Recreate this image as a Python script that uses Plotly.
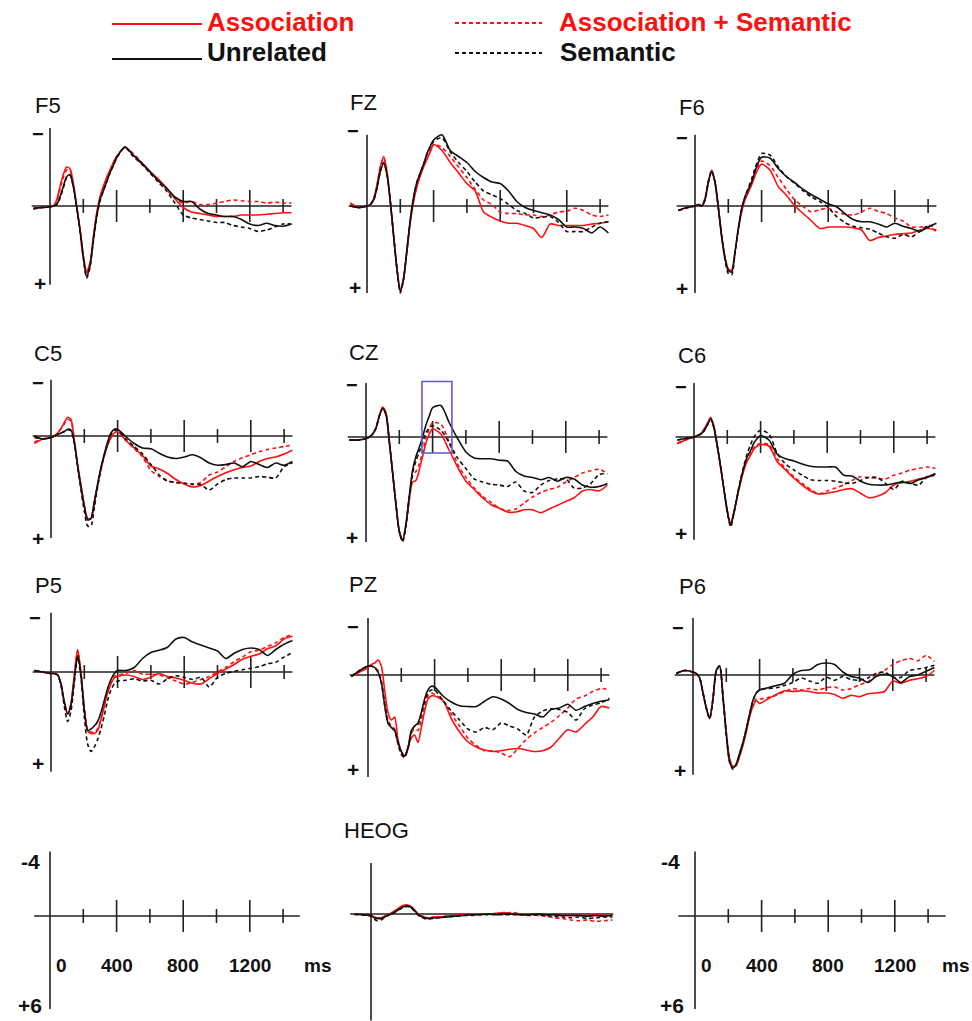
import plotly.graph_objects as go

W, H = 972, 1021
PX_PER_MS = 0.1665
PX_PER_UV = 15.0
FONT = "Liberation Sans, Arial, Helvetica, sans-serif"
RED = "#ff1010"
BLACK = "#111111"
AXIS = "#222222"

# ---------------- data ----------------
TIME_MS = [-100, -50, 0, 20, 40, 60, 80, 100, 120, 140, 160, 180, 200, 220, 240,
           260, 280, 300, 320, 340, 360, 380, 400, 450, 500, 550, 600, 650, 700,
           750, 800, 850, 900, 950, 1000, 1050, 1100, 1150, 1200, 1250, 1300,
           1350, 1400, 1450]

TICK_MS = [200, 400, 600, 800, 1000, 1200, 1400]
TICK_MAJOR = [False, True, False, True, False, True, False]
SCALE_TICK_MS = [0, 400, 800, 1200]
SCALE_TICK_TEXT = ["0", "400", "800", "1200"]
SCALE_UV_TEXT = ["-4", "+6"]
HIGHLIGHT_MS = [336, 516]
HIGHLIGHT_UV = [-3.7, 1.07]

CONDITIONS = ["Association + Semantic", "Association", "Semantic", "Unrelated"]

F5_UNREL = [0.15, 0.1, 0.05, 0.0, -0.1, -0.6, -1.3, -1.95, -2.1, -1.3, 0.05, 1.6, 3.4, 4.7, 4.0, 2.3, 0.7, -0.4, -1.0, -1.6, -2.2, -2.7, -3.2,
            -3.95, -3.4, -2.9, -2.3, -1.7, -1.2, -0.6, -0.3, -0.3, 0.2, 0.5, 0.6, 0.7, 0.7, 0.9, 1.2, 1.3, 1.15, 1.3, 1.35, 1.2]
F5_SEM = [0.2, 0.1, 0.05, 0.0, -0.1, -0.5, -1.2, -1.9, -2.05, -1.3, 0.1, 1.7, 3.5, 4.8, 4.1, 2.4, 0.8, -0.3, -1.0, -1.6, -2.2, -2.7, -3.2,
          -3.9, -3.3, -2.8, -2.2, -1.6, -1.0, -0.2, 0.6, 0.8, 0.9, 1.0, 1.1, 1.1, 1.3, 1.4, 1.5, 1.7, 1.6, 1.4, 1.2, 1.2]
F5_ASSOC = [0.2, 0.1, 0.05, 0.0, -0.4, -1.3, -2.1, -2.6, -2.5, -1.5, 0.0, 1.5, 3.3, 4.4, 3.8, 2.1, 0.5, -0.6, -1.3, -1.9, -2.4, -2.9, -3.3,
            -3.9, -3.4, -2.8, -2.3, -1.8, -1.2, -0.5, 0.1, 0.4, 0.5, 0.6, 0.7, 0.7, 0.7, 0.6, 0.6, 0.6, 0.55, 0.5, 0.45, 0.45]
F5_ASSEM = [0.15, 0.1, 0.05, 0.0, -0.3, -1.1, -1.9, -2.4, -2.4, -1.4, 0.0, 1.5, 3.3, 4.5, 3.9, 2.2, 0.6, -0.5, -1.2, -1.8, -2.3, -2.8, -3.3,
            -3.9, -3.5, -2.9, -2.3, -1.7, -1.1, -0.5, -0.2, -0.3, -0.1, -0.1, -0.2, -0.3, -0.4, -0.35, -0.3, -0.3, -0.2, -0.25, -0.2, -0.2]

FZ_UNREL = [0.0, 0.1, 0.0, -0.1, -0.4, -1.2, -2.3, -2.85, -2.1, -0.3, 2.0, 4.2, 5.7, 4.8, 2.9, 0.9, -0.6, -1.6, -2.2, -2.8, -3.5, -4.0, -4.4,
            -4.75, -3.7, -3.3, -2.9, -2.3, -1.9, -1.6, -1.5, -1.0, -0.3, 0.1, 0.3, 0.45, 0.6, 0.9, 1.4, 1.4, 1.5, 1.8, 1.4, 1.8]
FZ_SEM = [0.0, 0.1, 0.0, -0.1, -0.4, -1.2, -2.3, -2.9, -2.1, -0.3, 2.0, 4.2, 5.8, 4.9, 2.9, 0.9, -0.6, -1.6, -2.2, -2.8, -3.4, -3.9, -4.3,
          -4.55, -3.6, -2.9, -2.3, -1.6, -1.0, -0.75, -0.5, -0.1, 0.3, 0.5, 0.8, 0.75, 0.7, 1.1, 1.7, 1.7, 1.7, 1.4, 1.15, 1.05]
FZ_ASSOC = [-0.2, 0.1, 0.0, -0.1, -0.5, -1.4, -2.6, -3.3, -2.3, -0.3, 2.0, 4.2, 5.6, 4.8, 3.0, 1.1, -0.3, -1.3, -2.0, -2.6, -3.1, -3.6, -4.1,
            -3.7, -2.9, -2.2, -1.5, -1.0, 0.4, 0.75, 1.0, 1.15, 1.15, 1.3, 1.5, 2.1, 1.2, 1.3, 1.3, 1.3, 1.3, 1.2, 1.15, 1.05]
FZ_ASSEM = [-0.1, 0.1, 0.0, -0.1, -0.5, -1.4, -2.6, -3.2, -2.2, -0.3, 2.0, 4.2, 5.6, 4.8, 3.0, 1.0, -0.4, -1.4, -2.1, -2.7, -3.2, -3.7, -4.1,
            -3.9, -3.3, -2.6, -1.9, -1.1, -0.4, -0.1, 0.4, 0.5, 0.5, 0.6, 0.6, 0.7, 0.6, 0.4, 0.35, 0.15, 0.3, 0.6, 0.7, 0.6]

F6_UNREL = [0.3, 0.1, 0.0, -0.1, 0.0, -0.4, -1.6, -2.3, -1.6, 0.1, 2.0, 3.5, 4.3, 4.4, 3.1, 1.5, 0.2, -0.6, -1.1, -1.6, -2.3, -2.9, -3.25,
            -3.2, -2.5, -1.95, -1.55, -1.1, -0.75, -0.45, -0.15, 0.05, 0.5, 0.9, 1.05, 1.05, 1.2, 1.4, 1.15, 1.35, 1.5, 1.7, 1.4, 1.15]
F6_SEM = [0.3, 0.1, 0.0, -0.1, 0.0, -0.4, -1.6, -2.3, -1.6, 0.1, 2.0, 3.6, 4.5, 4.6, 3.2, 1.5, 0.2, -0.6, -1.2, -1.8, -2.5, -3.1, -3.5,
          -3.4, -2.6, -1.95, -1.5, -1.0, -0.6, -0.3, 0.1, 0.7, 1.1, 1.35, 1.45, 1.55, 1.8, 2.05, 2.15, 1.9, 2.05, 1.7, 1.3, 1.4]
F6_ASSOC = [0.3, 0.1, 0.0, -0.1, 0.0, -0.5, -1.6, -2.4, -1.6, 0.1, 2.0, 3.4, 4.2, 4.3, 3.1, 1.6, 0.4, -0.4, -0.9, -1.4, -2.0, -2.5, -2.8,
            -2.4, -1.3, -0.7, 0.0, 0.5, 1.0, 1.5, 1.4, 1.4, 1.4, 1.45, 1.6, 2.3, 2.1, 2.0, 1.9, 1.85, 1.8, 1.6, 1.5, 1.6]
F6_ASSEM = [0.3, 0.15, 0.0, -0.1, 0.0, -0.5, -1.6, -2.4, -1.6, 0.1, 2.0, 3.4, 4.2, 4.3, 3.1, 1.6, 0.3, -0.5, -1.0, -1.6, -2.2, -2.7, -3.0,
            -2.7, -1.9, -1.1, -0.4, 0.05, 0.4, 0.25, 0.15, 0.4, 0.55, 0.6, 0.4, 0.15, 0.35, 0.5, 0.8, 1.0, 1.4, 1.4, 1.4, 1.7]

C5_UNREL = [0.0, 0.2, 0.1, 0.0, -0.1, -0.2, -0.3, -0.45, -0.4, 0.4, 2.0, 3.4, 4.7, 5.6, 5.5, 4.4, 3.2, 2.1, 1.2, 0.4, -0.2, -0.45, -0.45,
            0.05, 0.5, 0.8, 0.85, 1.15, 1.4, 1.5, 1.4, 1.25, 1.45, 1.8, 1.95, 1.9, 1.8, 2.05, 1.7, 1.9, 2.1, 1.8, 1.95, 1.7]
C5_SEM = [0.1, 0.2, 0.1, 0.0, -0.1, -0.2, -0.3, -0.4, -0.35, 0.5, 2.1, 3.6, 5.0, 6.0, 6.0, 4.8, 3.4, 2.2, 1.3, 0.5, -0.1, -0.35, -0.4,
          0.2, 0.7, 1.2, 1.9, 2.6, 3.0, 3.1, 3.15, 3.2, 3.25, 3.6, 3.2, 2.9, 2.8, 2.8, 2.8, 2.7, 2.75, 2.8, 2.05, 1.8]
C5_ASSOC = [0.5, 0.2, 0.1, 0.0, -0.2, -0.5, -0.9, -1.25, -1.1, 0.3, 1.9, 3.3, 4.6, 5.5, 5.5, 4.4, 3.3, 2.2, 1.3, 0.6, 0.1, -0.2, -0.3,
            0.3, 0.8, 1.3, 2.0, 2.2, 2.5, 2.9, 3.2, 3.4, 3.3, 3.0, 2.7, 2.45, 2.25, 2.1, 2.0, 1.7, 1.5, 1.4, 1.2, 0.95]
C5_ASSEM = [0.4, 0.2, 0.1, 0.0, -0.2, -0.5, -0.8, -1.1, -1.0, 0.3, 1.9, 3.3, 4.6, 5.5, 5.5, 4.4, 3.3, 2.2, 1.3, 0.6, 0.1, -0.2, -0.3,
            0.3, 0.85, 1.4, 2.3, 2.7, 3.0, 3.1, 3.15, 3.25, 3.1, 2.6, 2.4, 2.05, 1.7, 1.45, 1.25, 1.05, 0.9, 0.8, 0.7, 0.6]

CZ_UNREL = [0.2, 0.2, 0.1, 0.0, -0.2, -0.6, -1.4, -1.9, -1.5, 0.3, 2.4, 4.5, 6.3, 6.9, 5.8, 3.9, 2.2, 1.3, 0.7, 0.0, -0.8, -1.4, -1.95,
            -2.1, -0.95, 0.1, 1.0, 1.4, 1.45, 1.45, 1.55, 1.6, 2.3, 2.6, 2.7, 2.85, 2.7, 2.95, 2.7, 2.8, 3.2, 3.35, 3.3, 3.1]
CZ_SEM = [0.2, 0.2, 0.1, 0.0, -0.2, -0.6, -1.4, -1.9, -1.5, 0.3, 2.4, 4.5, 6.3, 7.0, 5.9, 4.0, 2.4, 1.6, 1.0, 0.4, -0.3, -0.6, -0.75,
          -0.45, 0.4, 1.4, 2.1, 2.8, 3.0, 3.15, 3.2, 3.3, 3.0, 3.6, 3.7, 3.2, 2.9, 2.8, 2.8, 3.4, 3.4, 3.1, 2.5, 2.45]
CZ_ASSOC = [0.2, 0.2, 0.1, 0.0, -0.2, -0.6, -1.4, -2.0, -1.6, 0.3, 2.4, 4.5, 6.3, 6.9, 5.9, 4.2, 3.0, 2.9, 2.2, 1.3, 0.4, -0.2, -0.55,
            -0.2, 0.9, 2.0, 2.95, 3.5, 4.05, 4.5, 4.75, 5.0, 5.0, 4.85, 4.85, 5.05, 4.8, 4.55, 4.3, 4.05, 3.6, 3.5, 3.6, 3.2]
CZ_ASSEM = [0.2, 0.2, 0.1, 0.0, -0.2, -0.6, -1.4, -2.0, -1.6, 0.3, 2.4, 4.5, 6.3, 6.9, 5.9, 4.0, 2.6, 2.3, 1.8, 1.0, 0.1, -0.6, -0.95,
            -0.85, 0.35, 1.8, 2.7, 3.4, 3.95, 4.35, 4.75, 4.9, 4.8, 4.4, 4.0, 3.7, 3.5, 3.35, 3.0, 2.7, 2.4, 2.25, 2.15, 2.45]

C6_UNREL = [0.2, 0.1, 0.0, -0.1, -0.2, -0.4, -0.8, -1.2, -0.6, 0.6, 2.0, 3.5, 5.0, 5.9, 5.0, 3.9, 2.9, 2.0, 1.3, 0.9, 0.4, 0.1, -0.1,
            0.2, 1.15, 1.45, 1.6, 1.8, 1.95, 2.0, 2.0, 2.0, 2.55, 2.6, 2.95, 3.15, 3.2, 3.2, 3.1, 3.0, 3.1, 2.85, 2.7, 2.45]
C6_SEM = [0.2, 0.1, 0.0, -0.1, -0.2, -0.4, -0.8, -1.2, -0.6, 0.6, 2.0, 3.5, 5.0, 6.0, 5.1, 3.9, 2.8, 1.9, 1.1, 0.5, 0.0, -0.3, -0.45,
          -0.2, 1.1, 1.8, 2.2, 2.55, 2.85, 2.9, 2.9, 2.95, 3.05, 3.1, 2.9, 2.7, 2.7, 3.1, 3.5, 2.95, 3.1, 3.2, 2.65, 2.55]
C6_ASSOC = [0.45, 0.2, 0.0, -0.1, -0.2, -0.5, -0.9, -1.3, -0.7, 0.6, 2.0, 3.5, 4.9, 5.8, 5.0, 4.0, 3.0, 2.2, 1.6, 1.2, 0.8, 0.6, 0.5,
            0.6, 1.65, 2.2, 2.75, 3.2, 3.6, 3.8, 3.75, 3.65, 3.5, 3.45, 3.75, 4.05, 3.95, 3.7, 3.2, 3.05, 2.95, 2.8, 2.65, 2.45]
C6_ASSEM = [0.4, 0.2, 0.0, -0.1, -0.2, -0.5, -0.9, -1.3, -0.7, 0.6, 2.0, 3.5, 4.9, 5.8, 5.0, 4.0, 3.0, 2.1, 1.4, 1.0, 0.7, 0.5, 0.45,
            0.5, 1.45, 2.1, 2.65, 3.1, 3.5, 3.8, 3.6, 3.4, 3.2, 2.9, 2.65, 2.7, 2.75, 2.8, 2.55, 2.4, 2.2, 2.1, 2.0, 2.1]

P5_UNREL = [-0.1, 0.0, 0.1, 0.1, 0.2, 0.8, 2.0, 2.8, 2.2, 0.5, -1.1, 0.2, 2.5, 3.9, 3.8, 3.6, 3.3, 2.7, 1.9, 1.1, 0.5, 0.1, -0.1,
            -0.1, -0.3, -0.9, -1.3, -1.45, -1.65, -2.2, -2.3, -2.0, -1.8, -1.6, -1.4, -0.9, -1.25, -1.5, -1.6, -1.5, -1.1, -1.5, -1.85, -2.1]
P5_SEM = [-0.1, 0.0, 0.1, 0.1, 0.2, 0.9, 2.3, 3.3, 2.6, 0.7, -1.0, 0.4, 3.0, 4.8, 5.3, 5.0, 4.5, 3.8, 2.9, 1.9, 1.2, 0.8, 0.6,
          0.55, 0.45, 0.6, 0.55, 0.8, 0.45, 0.25, 0.35, 0.5, 0.35, 1.0, 0.35, 0.1, -0.05, -0.15, -0.25, -0.35, -0.55, -0.65, -1.0, -1.3]
P5_ASSOC = [-0.1, 0.0, 0.1, 0.1, 0.2, 0.8, 2.0, 2.8, 2.1, 0.2, -1.5, 0.0, 2.5, 3.9, 4.1, 4.1, 3.9, 3.2, 2.3, 1.4, 0.8, 0.4, 0.3,
            0.2, 0.3, 0.5, 0.35, 0.1, 0.3, 0.4, 0.55, 0.75, 0.8, 0.45, 0.1, -0.2, -0.5, -0.85, -1.05, -1.2, -1.55, -1.75, -2.2, -2.4]
P5_ASSEM = [-0.1, 0.0, 0.1, 0.1, 0.2, 0.8, 2.0, 2.8, 2.1, 0.2, -1.4, 0.0, 2.4, 3.8, 4.0, 4.0, 3.8, 3.1, 2.2, 1.3, 0.7, 0.3, 0.2,
            0.1, -0.1, 0.15, 0.15, 0.2, 0.4, 0.6, 0.8, 0.7, 0.5, 0.3, 0.0, -0.3, -0.7, -1.0, -1.35, -1.45, -1.7, -1.95, -2.3, -2.5]

PZ_UNREL = [0.1, -0.3, -0.6, -0.6, -0.5, -0.2, 0.5, 2.0, 3.2, 3.5, 3.7, 4.5, 5.1, 5.4, 4.9, 3.7, 3.4, 3.2, 2.5, 1.6, 1.0, 0.75, 0.8,
            1.4, 1.8, 2.05, 2.1, 2.1, 1.75, 1.45, 1.6, 1.9, 2.3, 2.5, 2.6, 2.8, 2.3, 2.2, 1.95, 2.35, 2.1, 1.9, 1.75, 1.65]
PZ_SEM = [0.1, -0.3, -0.6, -0.6, -0.5, -0.2, 0.5, 2.0, 3.2, 3.5, 3.7, 4.6, 5.3, 5.5, 4.9, 3.8, 3.4, 3.3, 2.6, 1.8, 1.2, 1.0, 1.0,
          1.7, 2.4, 3.0, 3.6, 3.8, 3.5, 3.65, 3.2, 3.4, 3.6, 4.0, 2.8, 2.4, 2.25, 2.3, 2.5, 3.0, 2.25, 2.0, 1.85, 1.55]
PZ_ASSOC = [0.1, -0.2, -0.5, -0.7, -0.8, -1.0, -0.6, 1.0, 2.5, 3.0, 2.8, 4.3, 5.1, 5.4, 4.8, 4.2, 4.0, 4.5, 3.5, 2.4, 1.6, 1.4, 1.4,
            1.7, 2.9, 3.8, 4.45, 4.8, 5.0, 5.1, 5.05, 4.95, 4.9, 5.0, 5.1, 5.05, 4.8, 4.2, 3.65, 3.8, 3.3, 2.8, 2.1, 2.2]
PZ_ASSEM = [0.1, -0.3, -0.6, -0.6, -0.5, -0.3, 0.4, 1.8, 3.0, 3.4, 3.6, 4.5, 5.2, 5.4, 4.9, 3.9, 3.6, 3.7, 3.0, 2.1, 1.4, 1.2, 1.3,
            1.7, 2.6, 3.4, 4.2, 4.7, 5.05, 5.05, 5.2, 5.45, 4.9, 4.3, 3.85, 3.5, 3.15, 2.7, 2.2, 1.6, 1.4, 1.1, 0.9, 1.0]

P6_UNREL = [-0.1, -0.3, -0.2, -0.1, 0.2, 1.2, 2.2, 2.9, 1.6, -0.3, -0.6, 1.5, 4.0, 5.8, 6.2, 5.9, 5.2, 4.5, 3.6, 2.6, 1.7, 1.2, 1.0,
            0.85, 0.7, 0.55, -0.05, -0.3, -0.35, -0.7, -0.8, -0.7, -0.2, 0.1, 0.2, 0.5, 0.1, -0.05, 0.1, 0.5, 0.1, 0.0, -0.25, -0.5]
P6_SEM = [-0.1, -0.3, -0.2, -0.1, 0.2, 1.2, 2.2, 2.9, 1.6, -0.3, -0.6, 1.5, 4.0, 5.8, 6.3, 6.0, 5.3, 4.5, 3.6, 2.6, 1.7, 1.2, 1.0,
          0.9, 0.85, 0.7, 0.5, 0.2, 0.4, 0.55, 0.15, 0.35, 0.1, 0.3, 0.35, 0.2, -0.1, -0.2, 0.15, 0.15, -0.3, -0.4, -0.5, -0.65]
P6_ASSOC = [-0.1, -0.3, -0.2, -0.1, 0.2, 1.2, 2.2, 2.9, 1.6, -0.3, -0.6, 1.4, 3.8, 5.6, 6.1, 6.0, 5.4, 4.7, 3.8, 2.8, 2.1, 1.7, 1.9,
            1.6, 1.3, 1.05, 1.1, 1.05, 1.1, 1.2, 1.2, 1.3, 1.55, 1.35, 1.45, 1.25, 1.2, 1.1, 0.4, 0.55, 0.35, 0.25, 0.1, -0.3]
P6_ASSEM = [-0.1, -0.3, -0.2, -0.1, 0.2, 1.2, 2.2, 2.9, 1.6, -0.3, -0.6, 1.4, 3.8, 5.6, 6.1, 6.0, 5.4, 4.6, 3.7, 2.7, 2.0, 1.6, 1.6,
            1.5, 1.35, 1.1, 0.9, 1.0, 0.9, 1.0, 0.85, 0.8, 1.0, 0.9, 0.65, 0.45, 0.0, -0.3, -0.7, -0.95, -1.1, -0.95, -1.3, -0.9]

HEOG_UNREL = [0.0, 0.05, 0.1, 0.25, 0.3, 0.3, 0.2, 0.1, 0.0, -0.1, -0.25, -0.4, -0.5, -0.55, -0.45, -0.25, 0.0, 0.15, 0.25, 0.3, 0.3, 0.25, 0.25,
              0.2, 0.15, 0.1, 0.05, 0.05, 0.0, 0.05, 0.0, 0.0, 0.05, 0.05, 0.0, 0.05, 0.05, 0.1, 0.1, 0.1, 0.15, 0.1, 0.15, 0.1]
HEOG_SEM = [0.05, 0.05, 0.15, 0.35, 0.45, 0.4, 0.25, 0.1, 0.0, -0.1, -0.25, -0.35, -0.45, -0.5, -0.4, -0.2, 0.05, 0.2, 0.3, 0.35, 0.3, 0.3, 0.25,
            0.2, 0.15, 0.1, 0.1, 0.05, 0.05, 0.0, 0.05, 0.05, 0.05, 0.1, 0.05, 0.1, 0.15, 0.2, 0.25, 0.2, 0.3, 0.25, 0.2, 0.2]
HEOG_ASSOC = [0.0, 0.05, 0.1, 0.2, 0.25, 0.25, 0.15, 0.05, -0.05, -0.2, -0.35, -0.5, -0.6, -0.6, -0.5, -0.3, -0.05, 0.1, 0.2, 0.25, 0.25, 0.2, 0.2,
              0.15, 0.1, 0.05, 0.05, 0.0, 0.0, -0.05, -0.1, 0.0, 0.05, 0.0, 0.05, 0.05, 0.05, 0.1, 0.1, 0.1, 0.1, 0.05, 0.1, 0.05]
HEOG_ASSEM = [0.0, 0.05, 0.1, 0.2, 0.3, 0.3, 0.2, 0.05, -0.05, -0.15, -0.3, -0.45, -0.55, -0.55, -0.45, -0.25, 0.0, 0.15, 0.25, 0.25, 0.25, 0.2, 0.2,
              0.15, 0.1, 0.05, 0.05, 0.0, 0.0, 0.0, -0.05, -0.1, 0.0, 0.05, 0.1, 0.15, 0.25, 0.3, 0.4, 0.45, 0.4, 0.5, 0.45, 0.4]

DATA = {
    "F5": [F5_ASSEM, F5_ASSOC, F5_SEM, F5_UNREL],
    "FZ": [FZ_ASSEM, FZ_ASSOC, FZ_SEM, FZ_UNREL],
    "F6": [F6_ASSEM, F6_ASSOC, F6_SEM, F6_UNREL],
    "C5": [C5_ASSEM, C5_ASSOC, C5_SEM, C5_UNREL],
    "CZ": [CZ_ASSEM, CZ_ASSOC, CZ_SEM, CZ_UNREL],
    "C6": [C6_ASSEM, C6_ASSOC, C6_SEM, C6_UNREL],
    "P5": [P5_ASSEM, P5_ASSOC, P5_SEM, P5_UNREL],
    "PZ": [PZ_ASSEM, PZ_ASSOC, PZ_SEM, PZ_UNREL],
    "P6": [P6_ASSEM, P6_ASSOC, P6_SEM, P6_UNREL],
    "HEOG": [HEOG_ASSEM, HEOG_ASSOC, HEOG_SEM, HEOG_UNREL],
}
for k, series in DATA.items():
    for s in series:
        if len(s) != len(TIME_MS):
            raise ValueError(f"{k}: length {len(s)}")

STYLE = {
    "Association + Semantic": dict(color=RED, dash="4px,3px"),
    "Association": dict(color=RED, dash="solid"),
    "Semantic": dict(color=BLACK, dash="4px,3px"),
    "Unrelated": dict(color=BLACK, dash="solid"),
}

# ---------------- layout (pixel placement) ----------------
# ox, oy: pixel of (0 ms, 0 uV); vtop/vbot: vertical axis extent in uV
PANELS = [
    dict(name="F5", ox=50, oy=206, vtop=-5.2, vbot=5.25, lab=(48, 105), mn=(38, 134), pl=(40, 284)),
    dict(name="FZ", ox=367, oy=206, vtop=-4.75, vbot=5.8, lab=(363, 103), mn=(353, 131), pl=(355, 288)),
    dict(name="F6", ox=695, oy=206, vtop=-4.75, vbot=5.8, lab=(692, 107), mn=(682, 138), pl=(682, 289)),
    dict(name="C5", ox=51, oy=436, vtop=-3.75, vbot=6.8, lab=(48, 353), mn=(38, 383), pl=(38, 538)),
    dict(name="CZ", ox=366, oy=437, vtop=-3.6, vbot=7.0, lab=(363, 352), mn=(352, 385), pl=(352, 537)),
    dict(name="C6", ox=694, oy=437, vtop=-3.6, vbot=6.85, lab=(692, 355), mn=(681, 387), pl=(681, 533)),
    dict(name="P5", ox=51, oy=672, vtop=-3.95, vbot=6.65, lab=(48, 585), mn=(35, 618), pl=(38, 763)),
    dict(name="PZ", ox=368, oy=675, vtop=-3.8, vbot=6.8, lab=(363, 584), mn=(353, 627), pl=(353, 769)),
    dict(name="P6", ox=693, oy=675, vtop=-3.8, vbot=6.65, lab=(692, 586), mn=(678, 628), pl=(680, 770)),
    dict(name="HEOG", ox=371, oy=914, vtop=-3.4, vbot=7.1, lab=(376, 830), xs=-125, xe=1455, ticks=False),
    dict(name="SCALE_L", ox=50, oy=916, vtop=-4.3, vbot=6.2, xs=-95, xe=1500, scale=True,
         uvlab=[(30, 861), (30, 1005)], mslab=(317, 965)),
    dict(name="SCALE_R", ox=695, oy=916, vtop=-4.3, vbot=6.2, xs=-100, xe=1505, scale=True,
         uvlab=[(670, 861), (672, 1005)], mslab=(955, 965)),
]

XMIN, XMAX = -140, 1560
SMALL_TICK, BIG_TICK = 0.47, 1.07


def px(x):
    return x / W


def py(y):
    return 1 - y / H


fig = go.Figure()
layout = dict(width=W, height=H, margin=dict(l=0, r=0, t=0, b=0),
              paper_bgcolor="white", plot_bgcolor="rgba(0,0,0,0)", showlegend=False)
annotations = []
shapes = []

for i, p in enumerate(PANELS, start=1):
    ox, oy = p["ox"], p["oy"]
    pxl = max(0.0, ox + XMIN * PX_PER_MS)
    pxr = min(W, ox + XMAX * PX_PER_MS)
    pyt = max(0.0, oy + (p["vtop"] - 0.6) * PX_PER_UV)
    pyb = min(H, oy + (p["vbot"] + 0.2) * PX_PER_UV)
    xr = [(pxl - ox) / PX_PER_MS, (pxr - ox) / PX_PER_MS]
    yr = [(pyb - oy) / PX_PER_UV, (pyt - oy) / PX_PER_UV]
    sfx = "" if i == 1 else str(i)
    layout["xaxis" + sfx] = dict(domain=[px(pxl), px(pxr)], range=xr, visible=False,
                                 fixedrange=True, anchor="y" + sfx)
    layout["yaxis" + sfx] = dict(domain=[py(pyb), py(pyt)], range=yr, visible=False,
                                 fixedrange=True, anchor="x" + sfx)
    xa, ya = "x" + sfx, "y" + sfx

    xs = p.get("xs", -110)
    xe = p.get("xe", 1450)
    # axis lines
    fig.add_trace(go.Scatter(x=[xs, xe, None, 0, 0], y=[0, 0, None, p["vtop"], p["vbot"]],
                             mode="lines", line=dict(color=AXIS, width=1.6),
                             xaxis=xa, yaxis=ya, hoverinfo="skip"))
    if p.get("ticks", True):
        tx, ty = [], []
        for t, major in zip(TICK_MS, TICK_MAJOR):
            h = BIG_TICK if major else SMALL_TICK
            tx += [t, t, None]
            ty += [-h, h, None]
        fig.add_trace(go.Scatter(x=tx, y=ty, mode="lines", line=dict(color=AXIS, width=1.6),
                                 xaxis=xa, yaxis=ya, hoverinfo="skip"))

    name = p["name"]
    if name in DATA:
        for cond, vals in zip(CONDITIONS, DATA[name]):
            st = STYLE[cond]
            fig.add_trace(go.Scatter(x=TIME_MS, y=vals, mode="lines", name=cond,
                                     line=dict(color=st["color"], dash=st["dash"], width=1.6,
                                               shape="spline", smoothing=0.7),
                                     xaxis=xa, yaxis=ya, hoverinfo="skip"))
        annotations.append(dict(text=name, x=px(p["lab"][0]), y=py(p["lab"][1]), xref="paper",
                                yref="paper", showarrow=False, xanchor="center", yanchor="middle",
                                font=dict(family=FONT, size=22, color="#111")))
    if "mn" in p:
        annotations.append(dict(text="<b>−</b>", x=px(p["mn"][0]), y=py(p["mn"][1]), xref="paper",
                                yref="paper", showarrow=False, xanchor="center", yanchor="middle",
                                font=dict(family=FONT, size=20, color="#111")))
        annotations.append(dict(text="<b>+</b>", x=px(p["pl"][0]), y=py(p["pl"][1]), xref="paper",
                                yref="paper", showarrow=False, xanchor="center", yanchor="middle",
                                font=dict(family=FONT, size=21, color="#111")))
    if p.get("scale"):
        for txt, (lx, ly) in zip(SCALE_UV_TEXT, p["uvlab"]):
            annotations.append(dict(text=f"<b>{txt}</b>", x=px(lx), y=py(ly), xref="paper",
                                    yref="paper", showarrow=False, xanchor="center",
                                    yanchor="middle", font=dict(family=FONT, size=21, color="#111")))
        for t, txt in zip(SCALE_TICK_MS, SCALE_TICK_TEXT):
            annotations.append(dict(text=f"<b>{txt}</b>", x=t, y=py(p["mslab"][1]), xref=xa,
                                    yref="paper", showarrow=False,
                                    xanchor="left" if t == 0 else "center", xshift=4 if t == 0 else 0,
                                    yanchor="middle", font=dict(family=FONT, size=19, color="#111")))
        annotations.append(dict(text="<b>ms</b>", x=px(p["mslab"][0]), y=py(p["mslab"][1]),
                                xref="paper", yref="paper", showarrow=False, xanchor="center",
                                yanchor="middle", font=dict(family=FONT, size=19, color="#111")))
    if name == "CZ":
        shapes.append(dict(type="rect", xref=xa, yref=ya, x0=HIGHLIGHT_MS[0], x1=HIGHLIGHT_MS[1],
                           y0=HIGHLIGHT_UV[0], y1=HIGHLIGHT_UV[1],
                           line=dict(color="#5a5ad2", width=1.6), fillcolor="rgba(0,0,0,0)"))

# ---------------- legend ----------------
LEGEND = [
    ("Association", RED, "solid", (112, 202, 24), (205, 22)),
    ("Association + Semantic", RED, "4px,3px", (455, 542, 23), (557, 22)),
    ("Unrelated", BLACK, "solid", (112, 202, 59), (205, 52)),
    ("Semantic", BLACK, "4px,3px", (455, 542, 53), (558, 52)),
]
for txt, col, dash, (lx0, lx1, ly), (tx, ty) in LEGEND:
    shapes.append(dict(type="line", xref="paper", yref="paper", x0=px(lx0), x1=px(lx1),
                       y0=py(ly), y1=py(ly), line=dict(color=col, width=2, dash=dash)))
    annotations.append(dict(text=f"<b>{txt}</b>", x=px(tx), y=py(ty), xref="paper", yref="paper",
                            showarrow=False, xanchor="left", yanchor="middle",
                            font=dict(family=FONT, size=26, color=col)))

layout["annotations"] = annotations
layout["shapes"] = shapes
fig.update_layout(**layout)
fig.write_html("out.html", config={"displayModeBar": False},
               post_script="document.body.style.margin='0px';document.body.style.overflow='hidden';")
